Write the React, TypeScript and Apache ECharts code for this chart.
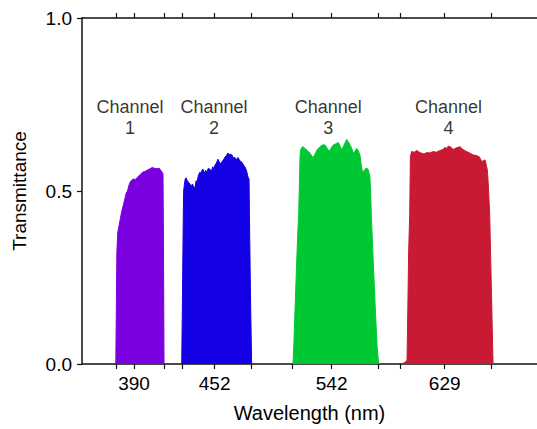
import React, { useEffect, useRef } from "react";
import * as echarts from "echarts";

// Transmission spectra: [wavelength nm, transmittance]
const channel1: [number, number][] = [
  [376.0, 0], [376.4, 0.15], [376.8, 0.32], [377.5, 0.38], [378.5, 0.4], [379.5, 0.42],
  [380.5, 0.44], [381.5, 0.455], [382.5, 0.47], [384, 0.494], [385, 0.5], [386, 0.515],
  [387, 0.525], [388.5, 0.532], [390, 0.535], [391, 0.533], [392.3, 0.538], [394, 0.545],
  [395.5, 0.55], [397, 0.555], [398.5, 0.556], [400, 0.56], [402.3, 0.564], [404, 0.568],
  [405.5, 0.566], [407.7, 0.564], [409.5, 0.566], [410.5, 0.56], [411.5, 0.555],
  [412.3, 0.55], [412.6, 0.4], [412.9, 0.15], [413.1, 0],
];
const channel2: [number, number][] = [
  [426.7, 0], [427.3, 0.2], [427.9, 0.43], [428.2, 0.5], [428.8, 0.52], [429.4, 0.535],
  [430, 0.538], [431, 0.53], [432, 0.525], [433, 0.52], [434, 0.515], [435, 0.52],
  [436, 0.51], [436.9, 0.51], [437.8, 0.53], [438.6, 0.525], [439.5, 0.545], [440.8, 0.555],
  [441.5, 0.548], [442.2, 0.56], [443.1, 0.563], [444, 0.55], [445, 0.56], [446.2, 0.555],
  [447, 0.565], [448.5, 0.563], [449.5, 0.556], [450.5, 0.57], [451.5, 0.565], [452.3, 0.575],
  [453.3, 0.58], [454.6, 0.592], [455.5, 0.585], [456.5, 0.578], [457.7, 0.585], [458.8, 0.59],
  [460, 0.598], [461, 0.602], [462.3, 0.61], [463.2, 0.605], [464.2, 0.606], [465.4, 0.604],
  [466.5, 0.595], [467.7, 0.597], [468.8, 0.59], [470, 0.597], [471, 0.59], [472, 0.585],
  [473.1, 0.583], [474.2, 0.575], [475.4, 0.569], [476.5, 0.56], [477.7, 0.54], [478.5, 0.535],
  [478.8, 0.43], [479.6, 0.2], [480.5, 0],
];
const channel3: [number, number][] = [
  [512.3, 0], [513, 0.06], [514, 0.17], [515, 0.28], [516, 0.38], [516.7, 0.434],
  [517.3, 0.53], [517.7, 0.6], [518.3, 0.62], [519, 0.626], [520, 0.628], [521.5, 0.623],
  [523, 0.618], [525.4, 0.609], [527, 0.6], [527.9, 0.597], [529, 0.605], [531, 0.62],
  [533.1, 0.628], [535, 0.633], [536.9, 0.633], [538.5, 0.624], [540.2, 0.614], [541.8, 0.625],
  [543.3, 0.633], [545, 0.636], [547.2, 0.64], [548.5, 0.63], [549.8, 0.618], [551.5, 0.632],
  [553.6, 0.649], [555.5, 0.638], [557.5, 0.623], [558.7, 0.609], [560, 0.615], [561.3, 0.623],
  [562.5, 0.616], [563.8, 0.604], [565, 0.57], [565.9, 0.551], [567.2, 0.56], [568.5, 0.566],
  [569.5, 0.565], [570.2, 0.561], [571.5, 0.541], [572, 0.5], [572.5, 0.434], [574, 0.3],
  [575.5, 0.17], [577, 0.05], [578.2, 0],
];
const channel4: [number, number][] = [
  [596, 0], [598, 0.004], [600, 0.01], [600.6, 0.15], [601.3, 0.33], [602.1, 0.434],
  [602.6, 0.6], [603.6, 0.614], [605.5, 0.612], [607.5, 0.617], [609.5, 0.612], [611.3, 0.609],
  [613, 0.607], [615.2, 0.611], [617.5, 0.61], [620.2, 0.614], [622.5, 0.612], [625.4, 0.617],
  [627.5, 0.62], [629.2, 0.626], [630.5, 0.623], [631.8, 0.63], [633.5, 0.627], [635.6, 0.62],
  [637.5, 0.624], [640.8, 0.628], [643, 0.62], [645.9, 0.614], [648.5, 0.609], [651, 0.604],
  [653, 0.603], [655.6, 0.599], [657.5, 0.585], [659, 0.588], [660, 0.59], [661, 0.575],
  [661.8, 0.561], [662.5, 0.52], [663.6, 0.434], [665, 0.2], [666.2, 0],
];

const channelNames = ["Channel\n1", "Channel\n2", "Channel\n3", "Channel\n4"];
const channelColors = ["#7a00e0", "#1400e4", "#00c832", "#c81a32"];
const labelX = [387, 451.5, 539.5, 632];
const labelY = 0.712;

const centerTicks = [390, 452, 542, 629];
const edgeTicks = [376, 413, 427, 480, 512, 578, 595, 665];
const allTicks = [...edgeTicks, ...centerTicks].sort((a, b) => a - b);

export default function App() {
  const ref = useRef<HTMLDivElement>(null);
  useEffect(() => {
    if (!ref.current) return;
    const chart = echarts.init(ref.current, undefined, { renderer: "svg" });
    const font = "'Liberation Sans', Arial, sans-serif";
    const axisLine = { show: true, onZero: false, lineStyle: { color: "#111", width: 1.5 } };
    const spectra = [channel1, channel2, channel3, channel4];
    chart.setOption({
      animation: false,
      grid: { left: 82, right: 0, top: 18, bottom: 65 },
      xAxis: [
        {
          type: "value",
          min: 350,
          max: 700,
          position: "bottom",
          axisLine,
          splitLine: { show: false },
          axisTick: { show: true, length: 5, customValues: allTicks, lineStyle: { color: "#111", width: 1.2 } },
          axisLabel: {
            show: true,
            customValues: centerTicks,
            margin: 10,
            fontSize: 19,
            color: "#000",
            fontFamily: font,
          },
          name: "Wavelength (nm)",
          nameLocation: "middle",
          nameGap: 39,
          nameTextStyle: { fontSize: 20, color: "#000", fontFamily: font },
        },
        {
          type: "value",
          min: 350,
          max: 700,
          position: "top",
          axisLine,
          splitLine: { show: false },
          axisTick: { show: true, length: 5, customValues: allTicks, lineStyle: { color: "#111", width: 1.2 } },
          axisLabel: { show: false },
        },
      ],
      yAxis: {
        type: "value",
        min: 0,
        max: 1,
        interval: 0.5,
        axisLine,
        splitLine: { show: false },
        axisTick: { show: true, length: 5, lineStyle: { color: "#111", width: 1.2 } },
        axisLabel: {
          margin: 10,
          fontSize: 19,
          color: "#000",
          fontFamily: font,
          formatter: (v: number) => v.toFixed(1),
        },
        name: "Transmittance",
        nameLocation: "middle",
        nameGap: 53,
        nameTextStyle: { fontSize: 19, color: "#000", fontFamily: font },
      },
      series: [
        ...spectra.map((d, i) => ({
          type: "line",
          data: d,
          symbol: "none",
          smooth: false,
          lineStyle: { color: channelColors[i], width: 1 },
          areaStyle: { color: channelColors[i], opacity: 1 },
          z: 2,
        })),
        {
          type: "scatter",
          symbolSize: 0,
          data: labelX.map((x, i) => ({ value: [x, labelY], name: channelNames[i] })),
          label: {
            show: true,
            position: "inside",
            formatter: (p: any) => p.name,
            fontSize: 18,
            lineHeight: 21,
            color: "#000",
            fontFamily: font,
            align: "center",
            verticalAlign: "middle",
          },
          z: 3,
        },
      ],
    });
    return () => chart.dispose();
  }, []);
  return (
    <div
      ref={ref}
      style={{ position: "fixed", left: 0, top: 0, width: 537, height: 429, background: "#fff" }}
    />
  );
}
